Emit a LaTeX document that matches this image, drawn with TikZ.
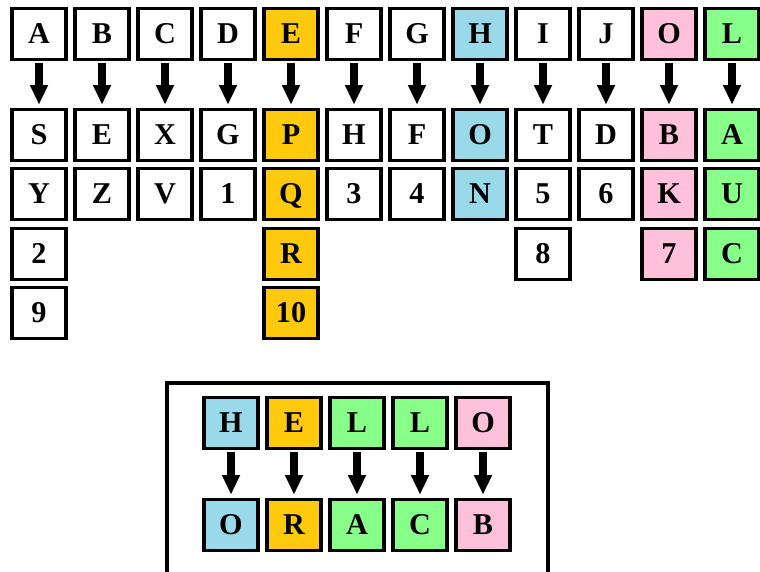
\documentclass[tikz,border=0pt]{standalone}
\usepackage{fontspec}
\setmainfont{Liberation Serif}
\usetikzlibrary{arrows.meta}
\definecolor{gold}{HTML}{FFC90E}
\definecolor{sky}{HTML}{99D9EA}
\definecolor{rose}{HTML}{FFC0D9}
\definecolor{lime}{HTML}{88FF88}

\begin{document}
\begin{tikzpicture}[x=0.025cm,y=-0.025cm,>={Triangle[length=14pt,width=12pt]},
  tile/.style={rectangle,draw,line width=2.8pt,fill=white,minimum width=1.35cm,minimum height=1.275cm,
    inner sep=0pt,font=\fontsize{21.5}{24}\selectfont\bfseries,text height=14pt,text depth=0pt},
  down/.style={->,line width=6pt,shorten <=1pt,shorten >=2pt}]
  \useasboundingbox (0,0) rectangle (760,571);
  \clip (0,0) rectangle (760,571);
  % key row
  \node[tile] (A0) at (39,34) {A};
  \node[tile] (B0) at (102,34) {B};
  \node[tile] (C0) at (165,34) {C};
  \node[tile] (D0) at (228,34) {D};
  \node[tile,fill=gold] (E0) at (291,34) {E};
  \node[tile] (F0) at (354,34) {F};
  \node[tile] (G0) at (417,34) {G};
  \node[tile,fill=sky] (H0) at (480,34) {H};
  \node[tile] (I0) at (543,34) {I};
  \node[tile] (J0) at (606,34) {J};
  \node[tile,fill=rose] (O0) at (669,34) {O};
  \node[tile,fill=lime] (L0) at (732,34) {L};
  % first substitutes
  \node[tile] (A1) at (39,135) {S};
  \node[tile] (B1) at (102,135) {E};
  \node[tile] (C1) at (165,135) {X};
  \node[tile] (D1) at (228,135) {G};
  \node[tile,fill=gold] (E1) at (291,135) {P};
  \node[tile] (F1) at (354,135) {H};
  \node[tile] (G1) at (417,135) {F};
  \node[tile,fill=sky] (H1) at (480,135) {O};
  \node[tile] (I1) at (543,135) {T};
  \node[tile] (J1) at (606,135) {D};
  \node[tile,fill=rose] (O1) at (669,135) {B};
  \node[tile,fill=lime] (L1) at (732,135) {A};
  % second substitutes
  \node[tile] (A2) at (39,194) {Y};
  \node[tile] (B2) at (102,194) {Z};
  \node[tile] (C2) at (165,194) {V};
  \node[tile] (D2) at (228,194) {1};
  \node[tile,fill=gold] (E2) at (291,194) {Q};
  \node[tile] (F2) at (354,194) {3};
  \node[tile] (G2) at (417,194) {4};
  \node[tile,fill=sky] (H2) at (480,194) {N};
  \node[tile] (I2) at (543,194) {5};
  \node[tile] (J2) at (606,194) {6};
  \node[tile,fill=rose] (O2) at (669,194) {K};
  \node[tile,fill=lime] (L2) at (732,194) {U};
  % third and fourth
  \node[tile] (A3) at (39,254) {2};
  \node[tile,fill=gold] (E3) at (291,254) {R};
  \node[tile] (I3) at (543,254) {8};
  \node[tile,fill=rose] (O3) at (669,254) {7};
  \node[tile,fill=lime] (L3) at (732,254) {C};
  \node[tile] (A4) at (39,313) {9};
  \node[tile,fill=gold] (E4) at (291,313) {10};
  \foreach \k in {A,B,C,D,E,F,G,H,I,J,O,L}
    \draw[down] (\k0) -- (\k1);
  % encoded word
  \draw[line width=2.2pt] (167,383) rectangle (548,600);
  \node[tile,fill=sky] (w1) at (231,423) {H};
  \node[tile,fill=gold] (w2) at (294,423) {E};
  \node[tile,fill=lime] (w3) at (357,423) {L};
  \node[tile,fill=lime] (w4) at (420,423) {L};
  \node[tile,fill=rose] (w5) at (483,423) {O};
  \node[tile,fill=sky] (c1) at (231,525) {O};
  \node[tile,fill=gold] (c2) at (294,525) {R};
  \node[tile,fill=lime] (c3) at (357,525) {A};
  \node[tile,fill=lime] (c4) at (420,525) {C};
  \node[tile,fill=rose] (c5) at (483,525) {B};
  \foreach \k in {1,...,5}
    \draw[down] (w\k) -- (c\k);
\end{tikzpicture}
\end{document}
